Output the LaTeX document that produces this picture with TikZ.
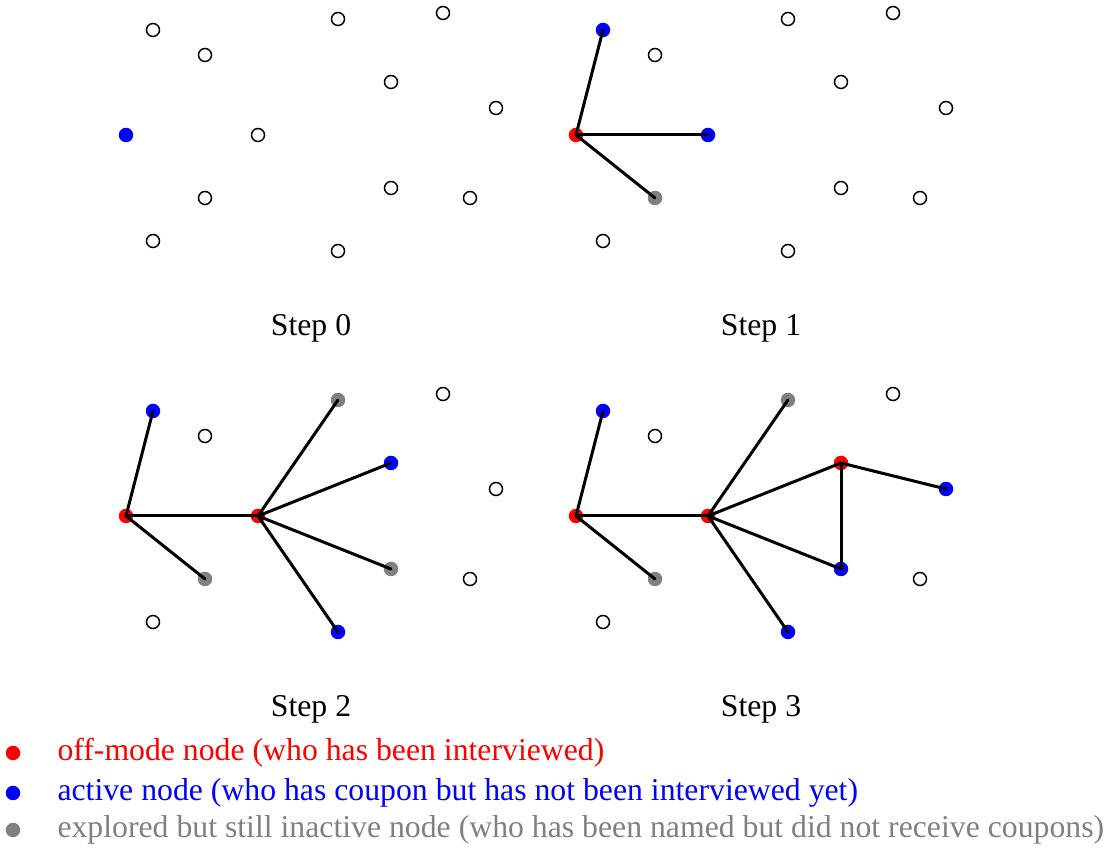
\documentclass[tikz,border=0pt]{standalone}
\usepackage{fontspec}
\setmainfont{Liberation Serif}
\usetikzlibrary{positioning}

% positions of the 13 people (panel 0, pixel units)
\newcommand\ptlist{1/153/30, 2/205/55, 3/338/19, 4/443/13, 5/391/82, 6/496/108,
  7/126/135, 8/258/135, 9/205/198, 10/391/188, 11/470/198, 12/153/241, 13/338/251}

\tikzset{
  dot/.style={circle,inner sep=0pt,minimum size=5.8pt},
  idle/.style={dot,draw=black,line width=0.6pt,minimum size=5.2pt,fill=white},
  off/.style={dot,fill=red},
  active/.style={dot,fill=blue},
  explored/.style={dot,fill=gray},
  edge/.style={line width=1.2pt,black,line cap=round},
  steplabel/.style={font=\fontsize{12.7}{14}\selectfont},
  legend/.style={anchor=west,inner sep=0pt,font=\fontsize{12.7}{14}\selectfont}
}

\begin{document}
\begin{tikzpicture}[x=0.4pt,y=-0.4pt,
    n1/.style=idle,n2/.style=idle,n3/.style=idle,n4/.style=idle,n5/.style=idle,
    n6/.style=idle,n7/.style=idle,n8/.style=idle,n9/.style=idle,n10/.style=idle,
    n11/.style=idle,n12/.style=idle,n13/.style=idle]
  \useasboundingbox (0,0) rectangle (1109,850);

  % Step 0
  \begin{scope}[n7/.style=active]
    \foreach \i/\x/\y in \ptlist \node[n\i] (a\i) at (\x,\y) {};
    \node[steplabel] (t0) at (311,328) {Step 0};
  \end{scope}

  % Step 1
  \begin{scope}[shift={(450,0)},n1/.style=active,n7/.style=off,n8/.style=active,n9/.style=explored]
    \foreach \i/\x/\y in \ptlist \node[n\i] (b\i) at (\x,\y) {};
    \foreach \j in {1,8,9} \draw[edge] (b7.center) -- (b\j.center);
    \node[steplabel] (t1) at (311,328) {Step 1};
  \end{scope}

  % Step 2
  \begin{scope}[shift={(0,381)},n1/.style=active,n7/.style=off,n8/.style=off,n9/.style=explored,
      n3/.style=explored,n5/.style=active,n10/.style=explored,n13/.style=active]
    \foreach \i/\x/\y in \ptlist \node[n\i] (c\i) at (\x,\y) {};
    \foreach \j in {1,8,9} \draw[edge] (c7.center) -- (c\j.center);
    \foreach \j in {3,5,10,13} \draw[edge] (c8.center) -- (c\j.center);
    \node[steplabel] (t2) at (311,328) {Step 2};
  \end{scope}

  % Step 3
  \begin{scope}[shift={(450,381)},n1/.style=active,n7/.style=off,n8/.style=off,n9/.style=explored,
      n3/.style=explored,n5/.style=off,n6/.style=active,n10/.style=active,n13/.style=active]
    \foreach \i/\x/\y in \ptlist \node[n\i] (d\i) at (\x,\y) {};
    \foreach \j in {1,8,9} \draw[edge] (d7.center) -- (d\j.center);
    \foreach \j in {3,5,10,13} \draw[edge] (d8.center) -- (d\j.center);
    \foreach \j in {6,10} \draw[edge] (d5.center) -- (d\j.center);
    \node[steplabel] (t3) at (311,328) {Step 3};
  \end{scope}

  % legend
  \node[off] (l1) at (13,753) {};
  \node[active] (l2) at (13,793) {};
  \node[explored] (l3) at (13,830) {};
  \node[legend,red] at (57,753) {off-mode node (who has been interviewed)};
  \node[legend,blue] at (57,793) {active node (who has coupon but has not been interviewed yet)};
  \node[legend,gray] at (57,830) {explored but still inactive node (who has been named but did not receive coupons)};
\end{tikzpicture}
\end{document}
